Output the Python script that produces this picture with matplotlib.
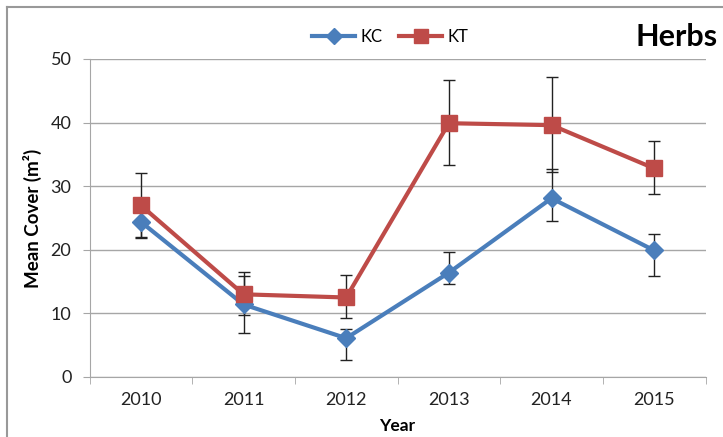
import matplotlib
matplotlib.use("Agg")
import matplotlib.pyplot as plt
from matplotlib.lines import Line2D

years = ["2010", "2011", "2012", "2013", "2014", "2015"]

kc_mean = [24.4, 11.4, 6.1, 16.4, 28.1, 19.9]
kc_err_low = [2.4, 4.5, 3.5, 1.7, 3.6, 4.0]
kc_err_high = [2.4, 4.5, 1.4, 3.3, 4.6, 2.6]

kt_mean = [27.0, 13.0, 12.5, 39.9, 39.6, 32.8]
kt_err_low = [5.2, 3.3, 3.3, 6.6, 7.3, 4.1]
kt_err_high = [5.0, 3.5, 3.5, 6.8, 7.6, 4.3]

blue = "#4a7ebb"
red = "#be4b48"
grey = "#a6a6a6"

plt.rcParams["font.family"] = ["Lato", "DejaVu Sans"]

fig = plt.figure(figsize=(7.23, 4.37), dpi=100)
ax = fig.add_axes([0.1238, 0.1373, 0.8520, 0.7277])

xs = list(range(len(years)))

ax.errorbar(xs, kc_mean, yerr=[kc_err_low, kc_err_high], fmt="none",
            ecolor="#222222", elinewidth=1, capsize=4, capthick=1, zorder=2)
ax.errorbar(xs, kt_mean, yerr=[kt_err_low, kt_err_high], fmt="none",
            ecolor="#222222", elinewidth=1, capsize=4, capthick=1, zorder=2)
ax.plot(xs, kc_mean, color=blue, lw=3, marker="D", ms=9, mec=blue, zorder=3)
ax.plot(xs, kt_mean, color=red, lw=3, marker="s", ms=12, mec=red, zorder=4)

ax.set_xlim(-0.5, len(years) - 0.5)
ax.set_ylim(0, 50)
ax.set_yticks([0, 10, 20, 30, 40, 50])
ax.set_xticks(xs)
ax.set_xticklabels(years)
ax.set_xticks([i - 0.5 for i in range(len(years) + 1)], minor=True)
ax.tick_params(axis="x", which="major", length=0, pad=11, labelsize=13, colors="#222222")
ax.tick_params(axis="x", which="minor", length=5, color=grey)
ax.tick_params(axis="y", length=5, color=grey, pad=8, labelsize=13, labelcolor="#222222")

ax.yaxis.grid(True, color=grey, lw=1)
ax.set_axisbelow(True)
for s in ["top", "right"]:
    ax.spines[s].set_visible(False)
for s in ["left", "bottom"]:
    ax.spines[s].set_color(grey)

ax.set_xlabel("Year", fontsize=12.5, fontweight="bold", labelpad=7)
ax.set_ylabel("Mean Cover (m²)", fontsize=13.5, fontweight="bold", labelpad=6)

handles = [
    Line2D([], [], color=blue, lw=3, marker="D", ms=8, mec=blue),
    Line2D([], [], color=red, lw=3, marker="s", ms=10, mec=red),
]
fig.legend(handles, ["KC", "KT"], loc="center", bbox_to_anchor=(390 / 723, 1 - 37 / 437),
           ncol=2, frameon=False, fontsize=12, handlelength=2.6, columnspacing=1.0,
           handletextpad=0.3)

fig.text(718 / 723, 1 - 37 / 437, "Herbs", fontsize=22, fontweight="bold",
         ha="right", va="center")

fig.add_artist(Line2D([7 / 723, 7 / 723], [0, 1 - 7 / 437], color="#999999", lw=1.5))
fig.add_artist(Line2D([7 / 723, 1], [1 - 7 / 437, 1 - 7 / 437], color="#999999", lw=1.5))

fig.savefig("out.png", dpi=100)
